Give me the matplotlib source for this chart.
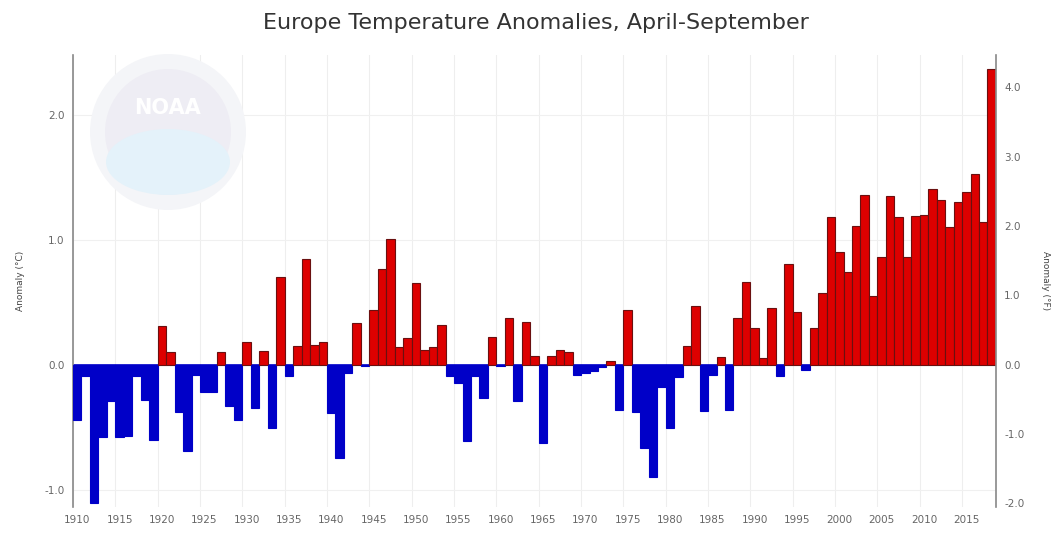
import matplotlib.pyplot as plt
import matplotlib.patches as mpatches
import numpy as np

years = list(range(1910, 2019))
anomaly = [
    -0.44, -0.09, -1.11, -0.58, -0.29, -0.58, -0.57, -0.09, -0.28, -0.60,  # 1910s
    0.31, 0.10, -0.38, -0.69, -0.08, -0.22, -0.22, 0.10, -0.33, -0.44,     # 1920s
    0.18, -0.35, 0.11, -0.51, 0.70, -0.09, 0.15, 0.85, 0.16, 0.18,         # 1930s
    -0.39, -0.75, -0.07, 0.33, -0.01, 0.44, 0.77, 1.01, 0.14, 0.21,        # 1940s
    0.65, 0.12, 0.14, 0.32, -0.09, -0.15, -0.61, -0.09, -0.27, 0.22,       # 1950s
    -0.01, 0.37, -0.29, 0.34, 0.07, -0.63, 0.07, 0.12, 0.10, -0.08,        # 1960s
    -0.07, -0.05, -0.02, 0.03, -0.36, 0.44, -0.38, -0.67, -0.90, -0.18,    # 1970s
    -0.51, -0.10, 0.15, 0.47, -0.37, -0.08, 0.06, -0.36, 0.37, 0.66,       # 1980s
    0.29, 0.05, 0.45, -0.09, 0.81, 0.42, -0.04, 0.29, 0.57, 1.18,          # 1990s
    0.90, 0.74, 1.11, 1.36, 0.55, 0.86, 1.35, 1.18, 0.86, 1.19,            # 2000s
    1.20, 1.41, 1.32, 1.10, 1.30, 1.38, 1.53, 1.14, 2.37,                  # 2010s
]
xticks = list(range(1910, 2016, 5))
yticks_c = [-1.0, 0.0, 1.0, 2.0]
yticks_f = [-2.0, -1.0, 0.0, 1.0, 2.0, 3.0, 4.0]

plt.rcParams['font.family'] = ['DejaVu Sans']

fig = plt.figure(figsize=(10.61, 5.38), dpi=100)
ax = fig.add_axes([0.0688, 0.0576, 0.8699, 0.8402])

# faint NOAA-style logo in the background (sized in pixels so it stays round)
W, H = 1061.0, 538.0
cx, cy = 168 / W, 1 - 132 / H
fig.patches.append(mpatches.Ellipse((cx, cy), 156 / W, 156 / H, transform=fig.transFigure,
                                    facecolor='#f4f5f8', edgecolor='none', zorder=0))
fig.patches.append(mpatches.Ellipse((cx, cy), 126 / W, 126 / H, transform=fig.transFigure,
                                    facecolor='#eeedf4', edgecolor='none', zorder=0))
fig.patches.append(mpatches.Ellipse((cx, 1 - 162 / H), 124 / W, 66 / H, transform=fig.transFigure,
                                    facecolor='#e4f2fa', edgecolor='none', zorder=0))
fig.text(cx, 1 - 108 / H, 'NOAA', ha='center', va='center', fontsize=15,
         fontweight='bold', color='white', zorder=1)

colors = ['#dd0000' if v >= 0 else '#0000c8' for v in anomaly]
edges = ['#6a1010' if v >= 0 else '#0000c8' for v in anomaly]
ax.bar(years, anomaly, width=1.0, color=colors, edgecolor=edges, linewidth=0.8, zorder=3)
ax.axhline(0, color='#0000c8', lw=1.2, zorder=2)

ax.set_xlim(1909.5, 2018.5)
ax.set_ylim(-1.14, 2.48)
ax.set_xticks(xticks)
ax.set_xticklabels([str(y) for y in xticks])
ax.set_yticks(yticks_c)
ax.set_yticklabels(['%.1f' % v for v in yticks_c])

for y in range(1910, 2019, 5):
    ax.axvline(y - 0.5, color='#eeeeee', lw=0.8, zorder=1)
for v in yticks_c:
    ax.axhline(v, color='#f0f0f0', lw=0.8, zorder=1)

ax.tick_params(axis='both', length=0, labelsize=7.5, colors='#666666', pad=6)
for s in ['top', 'bottom', 'right']:
    ax.spines[s].set_visible(False)
ax.spines['left'].set_color('#888888')
ax.spines['left'].set_linewidth(1.2)
ax.patch.set_alpha(0)
ax.set_ylabel('Anomaly (°C)', fontsize=6.5, color='#444444', labelpad=14)

ax2 = ax.twinx()
ax2.set_ylim(-1.14 * 1.8, 2.48 * 1.8)
ax2.set_yticks(yticks_f)
ax2.set_yticklabels(['%.1f' % v for v in yticks_f])
ax2.tick_params(axis='y', length=0, labelsize=7.5, colors='#666666', pad=6)
for s in ['top', 'bottom', 'left']:
    ax2.spines[s].set_visible(False)
ax2.spines['right'].set_color('#888888')
ax2.spines['right'].set_linewidth(1.2)
ax2.set_ylabel('Anomaly (°F)', fontsize=6.5, color='#444444', rotation=270, labelpad=18)

fig.text(0.505, 0.957, 'Europe Temperature Anomalies, April-September',
         ha='center', va='center', fontsize=16, color='#333333')

fig.savefig('out.png', dpi=100, facecolor='white')
